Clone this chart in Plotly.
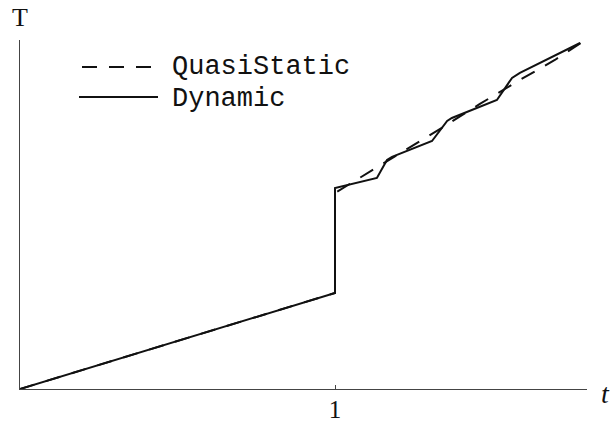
import plotly.graph_objects as go

# Data: t in units where tick "1" is the jump point
dyn_t = [0.0, 1.0, 1.0, 1.133, 1.165, 1.181, 1.308, 1.356, 1.371, 1.514, 1.562, 1.587, 1.778]
dyn_T = [0.0, 1.0, 2.094, 2.198, 2.385, 2.417, 2.583, 2.792, 2.823, 3.010, 3.240, 3.292, 3.604]

qs_t = [0.0, 1.0, 1.0, 1.079, 1.162, 1.270, 1.349, 1.460, 1.587, 1.698, 1.800]
qs_T = [0.0, 1.0, 2.042, 2.198, 2.365, 2.583, 2.740, 2.969, 3.219, 3.427, 3.646]

tick_vals = [1]
tick_text = ["1"]
legend_names = ["QuasiStatic", "Dynamic"]

fig = go.Figure()
fig.add_trace(go.Scatter(x=qs_t, y=qs_T, mode="lines", name=legend_names[0],
                         line=dict(color="#111111", width=2, dash="15px,12px")))
fig.add_trace(go.Scatter(x=dyn_t, y=dyn_T, mode="lines", name=legend_names[1],
                         line=dict(color="#111111", width=2)))

# legend drawn manually
fig.add_shape(type="line", xref="paper", yref="paper", x0=(82-20)/567, x1=(154-20)/567,
              y0=(389-67)/349, y1=(389-67)/349, line=dict(color="#111111", width=2, dash="15px,12px"))
fig.add_shape(type="line", xref="paper", yref="paper", x0=(79-20)/567, x1=(158-20)/567,
              y0=(389-97)/349, y1=(389-97)/349, line=dict(color="#111111", width=2))
for name, py in zip(legend_names, [67, 99]):
    fig.add_annotation(text=name, xref="paper", yref="paper", x=(170-20)/567, y=(389-py)/349,
                       xanchor="left", yanchor="middle", showarrow=False,
                       font=dict(family="Liberation Mono", size=27, color="#111111"))

fig.add_annotation(text="T", xref="paper", yref="paper", x=0, y=(389-18)/349,
                   xanchor="center", yanchor="middle", showarrow=False,
                   font=dict(family="Liberation Serif", size=26, color="#111111"))
fig.add_annotation(text="<i>t</i>", xref="paper", yref="paper", x=(599-20)/567, y=(389-393)/349,
                   xanchor="left", yanchor="middle", showarrow=False,
                   font=dict(family="Liberation Serif", size=28, color="#111111"))

fig.update_layout(
    width=611, height=424,
    margin=dict(l=20, r=24, t=40, b=35),
    paper_bgcolor="white", plot_bgcolor="white",
    showlegend=False,
    xaxis=dict(range=[0, 1.8], showgrid=False, zeroline=False, showline=True, automargin=False,
               linecolor="#444444", linewidth=1, ticks="inside", ticklen=4, tickcolor="#444444",
               tickvals=tick_vals, ticktext=tick_text, ticklabelstandoff=-2,
               tickfont=dict(family="Liberation Serif", size=25, color="#111111")),
    yaxis=dict(range=[0, 3.635], showgrid=False, zeroline=False, showline=True, automargin=False,
               linecolor="#444444", linewidth=1, showticklabels=False, ticks=""),
)

fig.write_html("out.html")
